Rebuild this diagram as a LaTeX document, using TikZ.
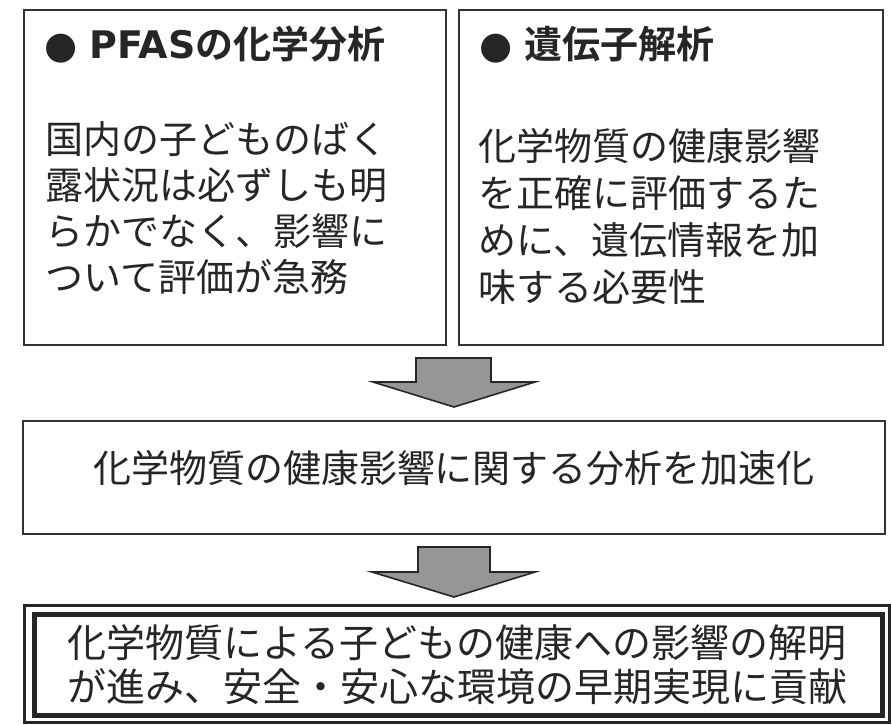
\documentclass[tikz,border=0pt]{standalone}
\usepackage{fontspec}
\setmainfont{DejaVu Sans}
\newfontfamily\jpfont{Noto Sans CJK JP}
\newfontfamily\jpbfont{Noto Sans CJK JP Bold}
\newfontfamily\djfont{DejaVu Sans}
\definecolor{ink}{HTML}{262626}
\definecolor{edge}{HTML}{333333}
\definecolor{arrowfill}{HTML}{969696}
\begin{document}
\begin{tikzpicture}[x=1pt,y=-1pt,
  box/.style={draw=edge,line width=2pt},
  body/.style={anchor=base west,inner sep=0pt,font=\jpfont\fontsize{38}{46}\selectfont,text=ink},
  head/.style={anchor=base west,inner sep=0pt,font=\fontsize{38}{46}\selectfont,text=ink},
  blockarrow/.style={draw=ink,line width=1.6pt,fill=arrowfill,line join=miter}]
\useasboundingbox (0,0) rectangle (892,724);
\fill[white] (0,0) rectangle (892,724);
% top boxes
\draw[box] (24,10) rectangle (446,345);
\draw[box] (459,10) rectangle (883,345);
\node[head] (h1) at (44,58) {{\djfont ●} {\bfseries PFAS}{\jpbfont の化学分析}};
\node[head] (h2) at (479,58) {{\djfont ●} {\jpbfont 遺伝子解析}};
\node[body] (a1) at (45,153) {国内の子どものばく};
\node[body] (a2) at (45,199) {露状況は必ずしも明};
\node[body] (a3) at (45,245) {らかでなく、影響に};
\node[body] (a4) at (45,291) {ついて評価が急務};
\node[body] (b1) at (478,160) {化学物質の健康影響};
\node[body] (b2) at (478,207) {を正確に評価するた};
\node[body] (b3) at (478,254) {めに、遺伝情報を加};
\node[body] (b4) at (478,301) {味する必要性};
% arrow 1
\draw[blockarrow] (416,358) -- (491,358) -- (491,382) -- (535,382) -- (454,407) -- (373,382) -- (416,382) -- cycle;
% middle box
\draw[box] (23,421) rectangle (885,534);
\node[body,anchor=base] (c1) at (454,482) {化学物質の健康影響に関する分析を加速化};
% arrow 2
\draw[blockarrow] (418,547) -- (490,547) -- (490,572) -- (535,572) -- (454,597) -- (372,572) -- (418,572) -- cycle;
% bottom box (thin-thick double border)
\draw[draw=ink,line width=3pt] (24.5,605) rectangle (889.5,722.5);
\draw[draw=ink,line width=5pt] (34.5,614.5) rectangle (882,715.5);
\node[body,font=\jpfont\fontsize{39}{44}\selectfont] (d1) at (67,657) {化学物質による子どもの健康への影響の解明};
\node[body,font=\jpfont\fontsize{39}{44}\selectfont] (d2) at (67,701) {が進み、安全・安心な環境の早期実現に貢献};
\end{tikzpicture}
\end{document}
